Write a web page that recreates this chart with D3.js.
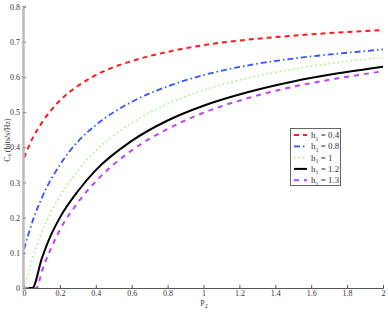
<!DOCTYPE html>
<html><head><meta charset="utf-8">
<script src="https://cdn.jsdelivr.net/npm/d3@7"></script>
<style>body{margin:0;background:#fff}svg{display:block}</style>
</head><body>
<script>
const xTicks = [0,0.2,0.4,0.6,0.8,1,1.2,1.4,1.6,1.8,2];
const yTicks = [0,0.1,0.2,0.3,0.4,0.5,0.6,0.7,0.8];
const legendLabels = ["0.4","0.8","1","1.2","1.3"];

const red_P = [0,0.05,0.1,0.2,0.3,0.4,0.6,0.8,1.0,1.25,1.5,1.75,2.0];
const red_C = [0.370,0.428,0.470,0.533,0.574,0.605,0.645,0.671,0.690,0.706,0.717,0.726,0.733];
const blue_P = [0,0.05,0.1,0.2,0.3,0.4,0.6,0.8,1.0,1.25,1.5,1.75,2.0];
const blue_C = [0.110,0.193,0.257,0.350,0.416,0.463,0.529,0.573,0.605,0.633,0.652,0.666,0.678];
const green_P = [0,0.05,0.1,0.2,0.3,0.4,0.6,0.8,1.0,1.25,1.5,1.75,2.0];
const green_C = [0,0.088,0.160,0.260,0.334,0.390,0.469,0.523,0.562,0.597,0.622,0.641,0.655];
const black_P = [0,0.046,0.1,0.15,0.2,0.3,0.4,0.6,0.8,1.0,1.25,1.5,1.75,2.0];
const black_C = [0,0,0.085,0.150,0.200,0.275,0.335,0.418,0.476,0.518,0.557,0.587,0.610,0.629];
const purple_P = [0,0.07,0.1,0.15,0.2,0.3,0.4,0.6,0.8,1.0,1.25,1.5,1.75,2.0];
const purple_C = [0,0,0.048,0.112,0.165,0.243,0.303,0.391,0.452,0.498,0.540,0.572,0.596,0.616];

const series = [
  {P:red_P, C:red_C, color:"#ff1a1a", dash:"5,4", w:2},
  {P:blue_P, C:blue_C, color:"#3355ff", dash:"6,3,1.5,3", w:1.8},
  {P:green_P, C:green_C, color:"#a6f07a", dash:"1.5,3", w:1.6},
  {P:black_P, C:black_C, color:"#000000", dash:null, w:2},
  {P:purple_P, C:purple_C, color:"#c040ff", dash:"5,5", w:2}
];

const W=388,H=312;
const svg=d3.select("body").append("svg").attr("width",W).attr("height",H);
const x=d3.scaleLinear().domain([0,2]).range([24,383]);
const y=d3.scaleLinear().domain([0,0.8]).range([288,6.5]);
const font="'Liberation Serif', 'Times New Roman', serif";

const line=d3.line().x(d=>x(d[0])).y(d=>y(d[1])).curve(d3.curveMonotoneX);
series.forEach(s=>{
  const pts=s.P.map((p,i)=>[p,s.C[i]]);
  svg.append("path").attr("d",line(pts)).attr("fill","none")
    .attr("stroke",s.color).attr("stroke-width",s.w)
    .attr("stroke-dasharray",s.dash);
});

// x axis
const xa=svg.append("g").attr("transform","translate(0,288)")
  .call(d3.axisBottom(x).tickValues(xTicks).tickSize(-3).tickFormat(d3.format("")));
xa.select(".domain").attr("stroke","#555").attr("stroke-width",1);
xa.selectAll(".tick line").attr("stroke","#555");
xa.selectAll("text").style("font-family",font).style("font-size","8px").attr("fill","#333").attr("y",2).attr("dy","0.71em");

// y axis
const ya=svg.append("g").attr("transform","translate(23,0)")
  .call(d3.axisLeft(y).tickValues(yTicks).tickSize(-3).tickFormat(d3.format("")));
ya.select(".domain").attr("stroke","#bbb").attr("stroke-width",2.5);
ya.selectAll(".tick line").attr("stroke","#888");
ya.selectAll("text").style("font-family",font).style("font-size","8px").attr("fill","#333").attr("x",-3);

// axis labels
const yl=svg.append("text").attr("transform","translate(9.5,140) rotate(-90)")
  .attr("text-anchor","middle").style("font-family",font).style("font-size","8px").attr("fill","#333");
yl.append("tspan").text("C");
yl.append("tspan").style("font-size","5.5px").attr("dy",1.5).text("s");
yl.append("tspan").attr("dy",-1.5).text(" (bits/s/Hz)");

const xl=svg.append("text").attr("x",204).attr("y",305.5).attr("text-anchor","middle")
  .style("font-family",font).style("font-size","8px").attr("fill","#333");
xl.append("tspan").text("P");
xl.append("tspan").style("font-size","6px").attr("dy",2.5).text("2");

// legend
const lg=svg.append("g");
lg.append("rect").attr("x",290.5).attr("y",128.5).attr("width",50).attr("height",57)
  .attr("fill","#fff").attr("stroke","#666").attr("stroke-width",1);
series.forEach((s,i)=>{
  const yy=135+i*11.3;
  lg.append("line").attr("x1",294).attr("x2",307).attr("y1",yy).attr("y2",yy)
    .attr("stroke",s.color).attr("stroke-width",s.w).attr("stroke-dasharray",s.dash);
  const t=lg.append("text").attr("x",311).attr("y",yy+3).style("font-family",font)
    .style("font-size","9px").attr("fill","#333");
  t.append("tspan").text("h");
  t.append("tspan").style("font-size","6px").attr("dy",2.5).text("1");
  t.append("tspan").attr("dy",-2.5).text(" = "+legendLabels[i]);
});
</script>
</body></html>
